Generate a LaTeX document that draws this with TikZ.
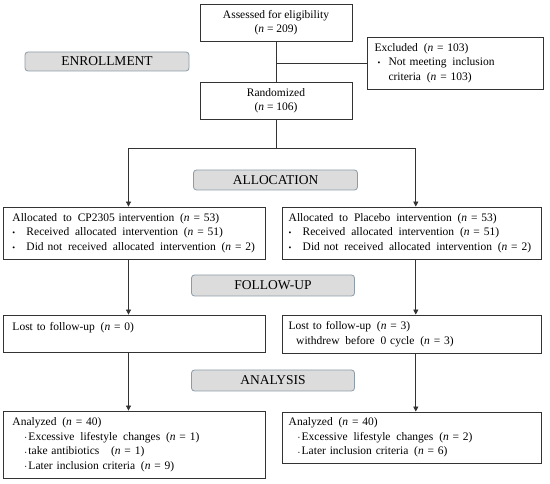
\documentclass[tikz,border=0pt]{standalone}
\usepackage{fontspec}
\setmainfont{Liberation Serif}
\usetikzlibrary{arrows.meta}
\definecolor{phaseborder}{HTML}{8C9BA8}
\definecolor{phasefill}{HTML}{DCDCDC}
\definecolor{linecol}{HTML}{333333}
\newcommand{\nn}{\textit{n}}
\newcommand{\gp}{\hspace{2pt} }
\newcommand{\bl}{\makebox[14pt][l]{\footnotesize\textbullet}}
\newcommand{\sbl}{\makebox[3.5pt][l]{\raisebox{0.5pt}{\tiny\textbullet}}}
\begin{document}
\begin{tikzpicture}[x=1pt,y=-1pt,
  box/.style={draw=linecol, line width=0.8pt, inner sep=0pt,
    font=\fontsize{11.5}{14.5}\selectfont},
  lbox/.style={box, align=left},
  phase/.style={draw=phaseborder, fill=phasefill, rounded corners=3pt,
    line width=0.8pt, inner sep=0pt, font=\fontsize{13.5}{15}\selectfont},
  conn/.style={draw=linecol, line width=0.8pt},
  arr/.style={conn, -{Triangle[length=5pt,width=5pt]}}]
\useasboundingbox (0,0) rectangle (550,484);

% phase labels
\node[phase, minimum width=164pt, minimum height=19pt] (enr) at (107,61.5) {ENROLLMENT};
\node[phase, minimum width=164pt, minimum height=20pt] (alc) at (275.5,180) {ALLOCATION};
\node[phase, minimum width=163pt, minimum height=21pt] (fol) at (273,285.5) {FOLLOW-UP};
\node[phase, minimum width=163pt, minimum height=21pt] (ana) at (273,380.5) {ANALYSIS};

% enrollment boxes
\node[box, minimum width=152pt, minimum height=37pt, align=center] (assess) at (276,22.5)
  {Assessed for eligibility\\(\nn{} = 209)};
\node[lbox, minimum width=176.5pt, minimum height=52pt, text width=161.5pt] (excl) at (455.25,63)
  {Excluded\gp(\nn{} = 103)\\
   \hspace{3pt}\makebox[11pt][l]{\footnotesize\textbullet}Not meeting\gp inclusion\\
   \hspace{14pt}criteria\gp(\nn{} = 103)};
\node[box, minimum width=152pt, minimum height=37pt, align=center] (rand) at (276,100.5)
  {Randomized\\(\nn{} = 106)};

% allocation boxes
\node[lbox, minimum width=262.7pt, minimum height=52pt, text width=243.7pt] (allocL) at (134.35,233)
  {Allocated\gp to\gp CP2305 intervention\gp(\nn{} = 53)\\
   \bl Received\gp allocated\gp intervention\gp(\nn{} = 51)\\
   \bl Did not\gp received\gp allocated\gp intervention\gp(\nn{} = 2)};
\node[lbox, minimum width=258.5pt, minimum height=52pt, text width=246.5pt] (allocR) at (411.95,233)
  {Allocated\gp to\gp Placebo\gp intervention\gp(\nn{} = 53)\\
   \bl Received\gp allocated\gp intervention\gp(\nn{} = 51)\\
   \bl Did not\gp received\gp allocated\gp intervention\gp(\nn{} = 2)};

% follow-up boxes
\node[lbox, minimum width=262.7pt, minimum height=37pt, text width=243.7pt] (lostL) at (134.35,333.5)
  {Lost to follow-up\gp(\nn{} = 0)\\\mbox{}};
\node[lbox, minimum width=258.5pt, minimum height=38pt, text width=246.5pt] (lostR) at (411.95,334)
  {Lost to follow-up\gp(\nn{} = 3)\\
   \hspace{7.5pt}withdrew\gp before\gp 0 cycle\gp(\nn{} = 3)};

% analysis boxes
\node[lbox, minimum width=262.7pt, minimum height=67pt, text width=243.7pt] (anaL) at (134.35,444.5)
  {Analyzed\gp(\nn{} = 40)\\
   \hspace{12.5pt}\sbl Excessive\gp lifestyle\gp changes\gp(\nn{} = 1)\\
   \hspace{12.5pt}\sbl take antibiotics\gp\gp(\nn{} = 1)\\
   \hspace{12.5pt}\sbl Later inclusion criteria\gp(\nn{} = 9)};
\node[lbox, minimum width=258.5pt, minimum height=51pt, text width=246.5pt] (anaR) at (411.95,437.5)
  {Analyzed\gp(\nn{} = 40)\\
   \hspace{9.5pt}\sbl Excessive\gp lifestyle\gp changes\gp(\nn{} = 2)\\
   \hspace{9.5pt}\sbl Later inclusion criteria\gp(\nn{} = 6)};

% connectors
\coordinate (split) at (276,148);
\coordinate (jl) at (128.5,148);
\coordinate (jr) at (415.8,148);
\draw[conn] (assess.south) -- (rand.north);
\draw[conn] (assess.south |- excl.west) -- (excl.west);
\draw[conn] (rand.south) -- (split);
\draw[conn] (jl) -- (jr);
\draw[arr] (jl) -- (jl |- allocL.north);
\draw[arr] (jr) -- (jr |- allocR.north);
\draw[arr] (jl |- allocL.south) -- (jl |- lostL.north);
\draw[arr] (jr |- allocR.south) -- (jr |- lostR.north);
\draw[arr] (jl |- lostL.south) -- (jl |- anaL.north);
\draw[arr] (jr |- lostR.south) -- (jr |- anaR.north);
\end{tikzpicture}
\end{document}
